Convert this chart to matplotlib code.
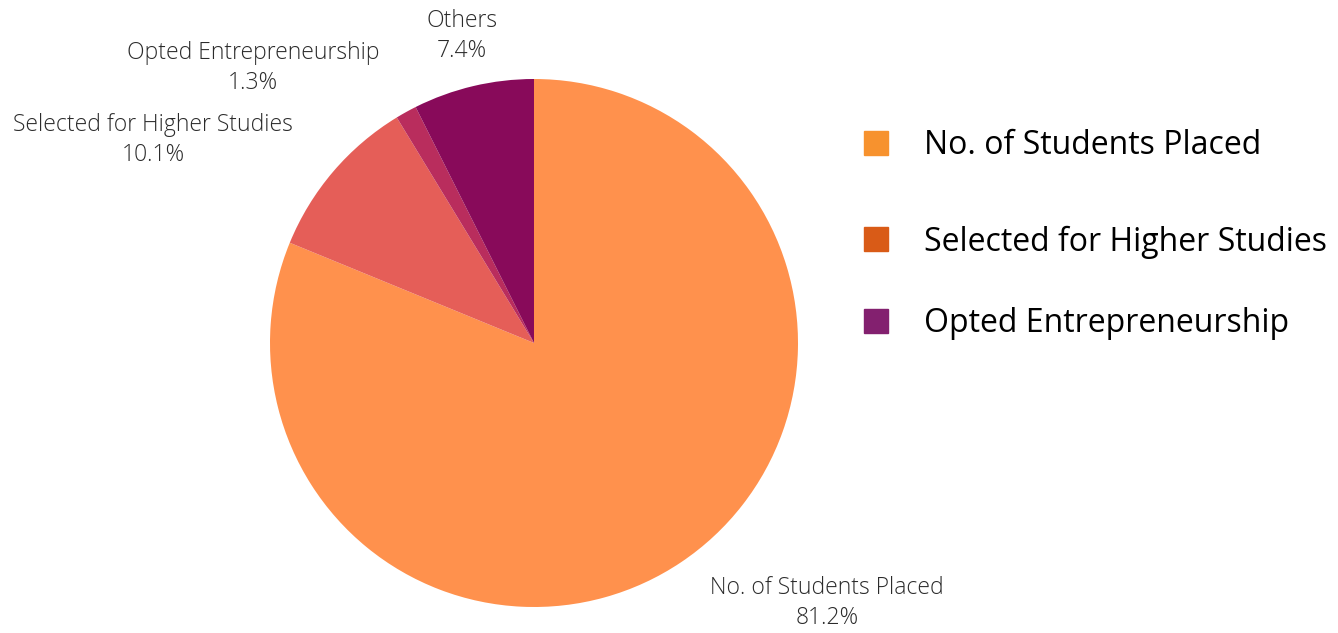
import matplotlib
matplotlib.use("Agg")
import matplotlib.pyplot as plt
from matplotlib.patches import Rectangle

plt.rcParams['font.family'] = ['Open Sans', 'DejaVu Sans']

# data
categories = ["No. of Students Placed", "Selected for Higher Studies",
              "Opted Entrepreneurship", "Others"]
shares = [81.2, 10.1, 1.3, 7.4]
slice_colors = ["#FF914D", "#E55E58", "#B92D5D", "#880A5A"]

legend_names = ["No. of Students Placed", "Selected for Higher Studies",
                "Opted Entrepreneurship"]
legend_colors = ["#F7922E", "#D95B17", "#83206F"]

# label positions (in pie radius units)
label_pos = [(1.110, -0.985), (-1.443, 0.769), (-1.064, 1.042), (-0.273, 1.163)]

fig = plt.figure(figsize=(13.38, 6.33), dpi=100)
ax = fig.add_axes([270/1338, 26/633, 528/1338, 528/633])
ax.pie(shares, colors=slice_colors, startangle=90, counterclock=False,
       wedgeprops=dict(linewidth=0))
ax.set_xlim(-1, 1)
ax.set_ylim(-1, 1)
ax.axis("off")

for name, val, (x, y) in zip(categories, shares, label_pos):
    ax.text(x, y, f"{name}\n{val}%", ha="center", va="center", fontsize=16.5,
            color="#2b2b2b", fontweight="light", linespacing=1.3, clip_on=False)

# legend, drawn by hand
leg_y = [143, 239, 321]
for name, col, yy in zip(legend_names, legend_colors, leg_y):
    fy = 1 - yy / 633
    fig.patches.append(Rectangle((864/1338, fy - 12/633), 24/1338, 24/633,
                                 transform=fig.transFigure, color=col))
    fig.text(924/1338, fy - 3/633, name, ha="left", va="center", fontsize=23, color="black")

fig.savefig("out.png", dpi=100)
